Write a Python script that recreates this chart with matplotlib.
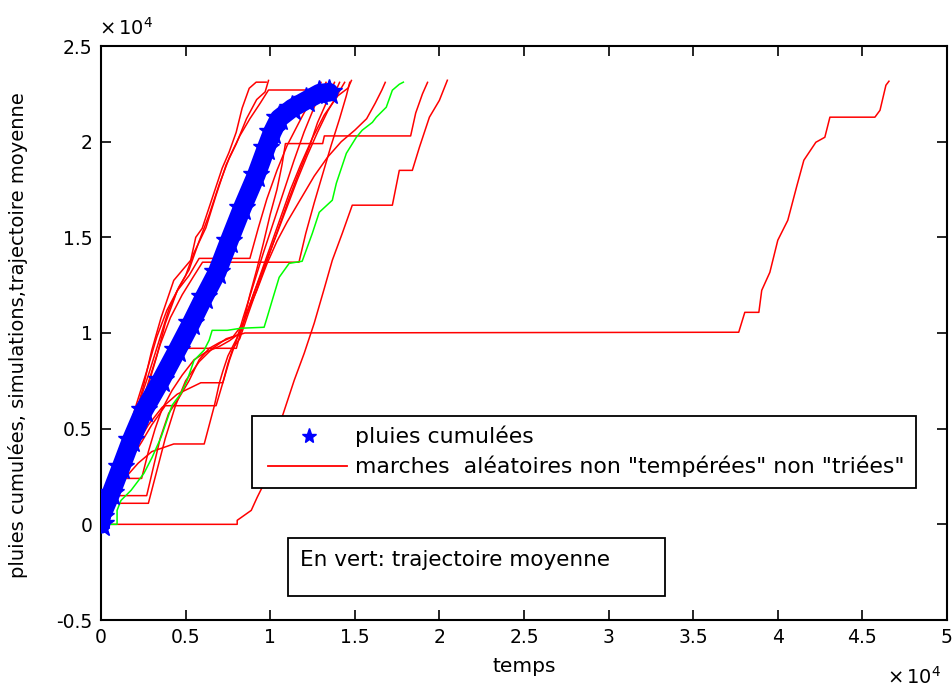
import numpy as np
import matplotlib.pyplot as plt
from matplotlib.lines import Line2D
from matplotlib.patches import Rectangle

# toutes les valeurs en unites de 1e4
ECHELLE = 1e4

pluies_t = [0.0, 0.0, 0.059, 0.118, 0.178, 0.254, 0.355, 0.450, 0.533, 0.609, 0.686,
            0.757, 0.834, 0.917, 0.976, 1.012, 1.053, 1.130, 1.213, 1.290, 1.349]
pluies_c = [0.0, 0.037, 0.162, 0.298, 0.439, 0.596, 0.753, 0.910, 1.051, 1.187, 1.317,
            1.480, 1.652, 1.824, 1.966, 2.049, 2.122, 2.175, 2.216, 2.253, 2.258]

moyenne_t = [0.0, 0.095, 0.095, 0.118, 0.178, 0.254, 0.302, 0.355, 0.420, 0.473, 0.509,
             0.550, 0.609, 0.639, 0.657, 0.746, 0.828, 0.964, 0.982, 1.012, 1.053, 1.112,
             1.189, 1.249, 1.290, 1.367, 1.391, 1.450, 1.509, 1.544, 1.604, 1.627, 1.686,
             1.722, 1.763, 1.787]
moyenne_c = [0.0, 0.0, 0.073, 0.125, 0.178, 0.267, 0.350, 0.455, 0.622, 0.685, 0.753,
             0.857, 0.910, 0.962, 1.014, 1.014, 1.025, 1.030, 1.082, 1.171, 1.291, 1.364,
             1.375, 1.521, 1.631, 1.694, 1.783, 1.939, 2.023, 2.060, 2.101, 2.128, 2.180,
             2.269, 2.300, 2.311]

marche_1 = [(0, 0), (0.03, 0.12), (0.09, 0.27), (0.15, 0.42), (0.20, 0.56), (0.25, 0.72),
            (0.30, 0.91), (0.355, 1.08), (0.43, 1.275), (0.53, 1.38), (0.56, 1.50),
            (0.598, 1.547), (0.657, 1.704), (0.716, 1.861), (0.757, 1.945), (0.799, 2.049),
            (0.834, 2.175), (0.876, 2.279), (0.917, 2.311), (0.976, 2.311)]
marche_2 = [(0, 0), (0.06, 0.12), (0.14, 0.33), (0.21, 0.52), (0.27, 0.70), (0.33, 0.88),
            (0.38, 1.05), (0.45, 1.22), (0.50, 1.30), (0.55, 1.42), (0.62, 1.55),
            (0.68, 1.72), (0.74, 1.88), (0.80, 1.99), (0.86, 2.12), (0.92, 2.22),
            (0.97, 2.26), (0.99, 2.32)]
marche_3 = [(0, 0), (0.05, 0.14), (0.10, 0.30), (0.16, 0.47), (0.22, 0.62), (0.28, 0.78),
            (0.34, 0.95), (0.40, 1.12), (0.46, 1.24), (0.52, 1.33), (0.58, 1.48),
            (0.64, 1.62), (0.70, 1.78), (0.76, 1.92), (0.82, 2.03), (0.88, 2.12),
            (0.94, 2.20), (0.99, 2.27), (1.39, 2.27), (1.41, 2.31)]
marche_4 = [(0, 0), (0.04, 0.12), (0.09, 0.28), (0.15, 0.45), (0.21, 0.63), (0.27, 0.80),
            (0.33, 0.98), (0.39, 1.12), (0.45, 1.22), (0.52, 1.30), (0.58, 1.39),
            (0.88, 1.39), (0.93, 1.55), (0.98, 1.70), (1.04, 1.85), (1.10, 1.98),
            (1.17, 2.10), (1.23, 2.20), (1.28, 2.27), (1.30, 2.31)]
marche_5 = [(0, 0), (0.05, 0.10), (0.11, 0.27), (0.17, 0.43), (0.23, 0.60), (0.29, 0.77),
            (0.35, 0.94), (0.41, 1.08), (0.48, 1.20), (0.55, 1.30), (0.60, 1.37),
            (1.17, 1.37), (1.21, 1.52), (1.26, 1.68), (1.31, 1.83), (1.36, 1.98),
            (1.41, 2.12), (1.45, 2.24), (1.47, 2.31)]
marche_6 = [(0, 0), (0.05, 0.13), (0.10, 0.30), (0.16, 0.46), (0.22, 0.60), (0.28, 0.72),
            (0.35, 0.83), (0.42, 0.92), (0.80, 0.92), (0.84, 1.05), (0.88, 1.20),
            (0.92, 1.33), (0.96, 1.47), (1.00, 1.62), (1.04, 1.75), (1.07, 1.88),
            (1.09, 1.99), (1.31, 1.99), (1.32, 2.03), (1.83, 2.03), (1.86, 2.15),
            (1.90, 2.25), (1.93, 2.31)]
marche_7 = [(0, 0), (0.04, 0.10), (0.10, 0.22), (0.17, 0.33), (0.24, 0.43), (0.30, 0.52),
            (0.38, 0.62), (0.68, 0.62), (0.72, 0.74), (0.76, 0.86), (0.80, 0.96),
            (0.84, 1.08), (0.90, 1.25), (0.96, 1.42), (1.02, 1.58), (1.08, 1.74),
            (1.14, 1.90), (1.20, 2.05), (1.26, 2.18), (1.30, 2.26), (1.33, 2.31)]
marche_8 = [(0, 0), (0.04, 0.08), (0.08, 0.15), (0.14, 0.24), (0.22, 0.32), (0.30, 0.38),
            (0.43, 0.42), (0.61, 0.42), (0.64, 0.52), (0.67, 0.62), (0.70, 0.74),
            (0.72, 0.80), (0.75, 0.88), (0.79, 0.95), (0.83, 1.02), (0.88, 1.15),
            (0.94, 1.30), (1.00, 1.45), (1.06, 1.60), (1.12, 1.75), (1.18, 1.88),
            (1.25, 2.02), (1.32, 2.14), (1.40, 2.24), (1.46, 2.28), (1.48, 2.32)]
marche_9 = [(0, 0), (0.06, 0.10), (0.12, 0.25), (0.20, 0.40), (0.28, 0.52), (0.36, 0.61),
            (0.45, 0.68), (0.59, 0.74), (0.72, 0.74), (0.75, 0.84), (0.78, 0.92),
            (0.82, 0.97), (0.87, 1.10), (0.93, 1.25), (0.99, 1.40), (1.05, 1.55),
            (1.11, 1.70), (1.17, 1.84), (1.23, 1.97), (1.28, 2.10), (1.33, 2.20),
            (1.36, 2.27), (1.38, 2.31)]
marche_10 = [(0, 0), (0.03, 0.08), (0.08, 0.15), (0.27, 0.15), (0.31, 0.30), (0.35, 0.45),
             (0.40, 0.58), (0.46, 0.66), (0.52, 0.75), (0.58, 0.86), (0.64, 0.92),
             (0.70, 0.95), (0.78, 0.98), (0.84, 1.05), (0.90, 1.20), (0.97, 1.36),
             (1.04, 1.52), (1.10, 1.66), (1.16, 1.80), (1.22, 1.93), (1.28, 2.05),
             (1.34, 2.16), (1.40, 2.25), (1.44, 2.31)]
marche_11 = [(0, 0), (0.04, 0.08), (0.07, 0.11), (0.28, 0.11), (0.33, 0.28), (0.38, 0.45),
             (0.44, 0.62), (0.50, 0.75), (0.58, 0.85), (0.66, 0.92), (0.74, 0.97),
             (0.85, 1.0), (3.769, 1.004), (3.805, 1.108), (3.888, 1.108), (3.905, 1.223),
             (3.953, 1.317), (4.0, 1.485), (4.059, 1.589), (4.112, 1.767), (4.154, 1.903),
             (4.225, 1.997), (4.278, 2.023), (4.308, 2.128), (4.574, 2.128), (4.604, 2.164),
             (4.639, 2.295), (4.657, 2.316)]
marche_12 = [(0, 0), (0.805, 0.0), (0.805, 0.021), (0.888, 0.073), (0.923, 0.141),
             (0.982, 0.246), (1.040, 0.400), (1.070, 0.560), (1.142, 0.753), (1.201, 0.894),
             (1.260, 1.051), (1.320, 1.234), (1.367, 1.380), (1.426, 1.521), (1.485, 1.668),
             (1.722, 1.668), (1.763, 1.850), (1.840, 1.850), (1.882, 1.971), (1.941, 2.128),
             (2.0, 2.216), (2.047, 2.321)]
marche_13 = [(0, 0), (0.04, 0.12), (0.08, 0.24), (0.24, 0.24), (0.28, 0.38), (0.32, 0.50),
             (0.36, 0.60), (0.42, 0.70), (0.48, 0.78), (0.55, 0.86), (0.62, 0.90),
             (0.70, 0.93), (0.76, 0.96), (0.82, 1.00), (0.86, 1.10), (0.92, 1.22),
             (0.98, 1.36), (1.04, 1.48), (1.10, 1.58), (1.18, 1.70), (1.26, 1.82),
             (1.34, 1.92), (1.42, 2.00), (1.50, 2.06), (1.57, 2.12), (1.62, 2.20),
             (1.66, 2.27), (1.68, 2.31)]

marches = [marche_1, marche_2, marche_3, marche_4, marche_5, marche_6, marche_7,
           marche_8, marche_9, marche_10, marche_11, marche_12, marche_13]

x_ticks = [0, 0.5, 1, 1.5, 2, 2.5, 3, 3.5, 4, 4.5, 5]
y_ticks = [-0.5, 0, 0.5, 1, 1.5, 2, 2.5]
tick_labels_x = ['0', '0.5', '1', '1.5', '2', '2.5', '3', '3.5', '4', '4.5', '5']
tick_labels_y = ['-0.5', '0', '0.5', '1', '1.5', '2', '2.5']

W, H = 952, 689
AX_L, AX_R, AX_T, AX_B = 101, 947, 46, 620


def fx(px):
    return px / W


def fy(py):
    return 1 - py / H


plt.rcParams['font.family'] = 'DejaVu Sans'
fig = plt.figure(figsize=(W / 100, H / 100), dpi=100)
ax = fig.add_axes([fx(AX_L), fy(AX_B), fx(AX_R) - fx(AX_L), fy(AX_T) - fy(AX_B)])

for m in marches:
    t = np.array([p[0] for p in m]) * ECHELLE
    c = np.array([p[1] for p in m]) * ECHELLE
    ax.plot(t, c, color='#ff0000', lw=1.1, zorder=2)

ax.plot(np.array(moyenne_t) * ECHELLE, np.array(moyenne_c) * ECHELLE,
        color='#00ff00', lw=1.1, zorder=3)

ax.plot(np.array(pluies_t) * ECHELLE, np.array(pluies_c) * ECHELLE,
        color='#0000ff', lw=13.5, solid_capstyle='round', solid_joinstyle='round', zorder=4)
ax.plot(np.array(pluies_t) * ECHELLE, np.array(pluies_c) * ECHELLE,
        ls='none', marker='*', ms=19, color='#0000ff', zorder=4)

ax.set_xlim(0, 5 * ECHELLE)
ax.set_ylim(-0.5 * ECHELLE, 2.5 * ECHELLE)
ax.set_xticks(np.array(x_ticks) * ECHELLE)
ax.set_yticks(np.array(y_ticks) * ECHELLE)
ax.set_xticklabels(tick_labels_x)
ax.set_yticklabels(tick_labels_y)
ax.tick_params(direction='in', length=7, width=1.2, labelsize=13.5, top=True, right=True,
               pad=6)
for s in ax.spines.values():
    s.set_linewidth(1.5)

ax.set_xlabel('temps', fontsize=14.5, labelpad=7)
ax.set_ylabel('pluies cumulées, simulations,trajectoire moyenne', fontsize=14)
# position du titre vertical : bord droit du texte vers x = 28 px
ax.yaxis.set_label_coords((28 - AX_L) / (AX_R - AX_L), (AX_B - 335) / (AX_B - AX_T))

fig.text(fx(99), fy(35), r'$\times\,10^{4}$', fontsize=14, ha='left', va='baseline')
fig.text(fx(887), fy(684), r'$\times\,10^{4}$', fontsize=14, ha='left', va='baseline')

# legende dessinee a la main, comme dans MATLAB
fig.patches.append(Rectangle((fx(252), fy(488)), fx(916) - fx(252), fy(416) - fy(488),
                             transform=fig.transFigure, facecolor='white',
                             edgecolor='black', lw=1.3, zorder=10))
fig.add_artist(Line2D([fx(309)], [fy(436)], marker='*', ms=11, color='#0000ff',
                      ls='none', transform=fig.transFigure, zorder=11))
fig.add_artist(Line2D([fx(268), fx(347)], [fy(466), fy(466)], color='#ff0000', lw=1.3,
                      transform=fig.transFigure, zorder=11))
fig.text(fx(355), fy(436), 'pluies cumulées', fontsize=15.8, va='center', zorder=12)
fig.text(fx(355), fy(466), 'marches  aléatoires non "tempérées" non "triées"',
         fontsize=15.8, va='center', zorder=12)

fig.patches.append(Rectangle((fx(288), fy(596)), fx(665) - fx(288), fy(538) - fy(596),
                             transform=fig.transFigure, facecolor='white',
                             edgecolor='black', lw=1.3, zorder=10))
fig.text(fx(300), fy(560), 'En vert: trajectoire moyenne', fontsize=15.5, va='center',
         zorder=12)

fig.savefig('out.png', dpi=100)
